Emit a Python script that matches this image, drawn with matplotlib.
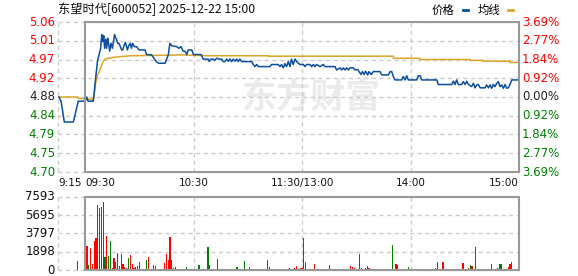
import matplotlib
matplotlib.use("Agg")
import matplotlib.pyplot as plt
from matplotlib.lines import Line2D
from matplotlib.patches import Rectangle

# stock intraday data, time in minutes after 9:15 (9:30 = 15, 11:30/13:00 = 135, 15:00 = 255)
prev_close = 4.88

price_t = [0.5, 1.7, 3.5, 8.5, 9.4, 10.3, 11.2, 15.0, 15.9, 16.6, 19.5, 20.1, 20.8,
           21.9, 22.7, 23.6, 24.2, 24.7, 25.3, 25.8, 26.4, 26.9, 27.5, 28.0, 28.6,
           29.3, 30.1, 30.8, 31.3, 31.9, 32.5, 33.0, 33.7, 34.5, 35.2, 35.8, 36.5,
           37.3, 37.8, 38.4, 39.1, 40.0, 40.6, 41.3, 42.2, 43.5, 44.8, 48.1, 49.0,
           51.8, 53.7, 54.6, 55.9, 59.2, 61.0, 61.9, 62.9, 65.6, 66.9, 68.0, 69.3,
           70.3, 71.2, 72.1, 74.0, 74.9, 78.6, 79.4,
           80.3, 83.1, 83.7, 84.6, 85.9, 86.8, 87.7, 89.2, 90.5, 91.4, 92.3, 93.3,
           94.2, 95.1, 96.0, 96.9, 97.9, 98.8, 99.7, 100.6, 101.6, 107.1, 108.0,
           108.9, 109.9, 110.8, 117.2, 118.1, 121.8, 122.8, 123.7, 124.6, 125.5,
           126.4, 127.4, 128.3, 129.2, 130.1, 131.1, 132.0, 133.8, 135.7, 136.6,
           137.5, 139.4, 140.3, 141.2, 142.1, 143.0, 144.9, 146.7, 147.7, 153.2,
           154.1, 156.0, 156.9, 157.8, 158.7, 159.6, 160.6, 161.5, 163.3, 164.2,
           165.8, 166.5, 167.6, 168.4, 169.3, 170.2, 171.3, 172.0, 173.2, 174.4,
           178.1, 179.1, 182.7, 183.7, 184.6, 185.5, 186.4, 190.1, 191.0, 192.0,
           192.9, 193.8, 198.4, 199.3, 200.3, 201.2, 209.5, 210.4, 217.8, 218.7,
           219.6, 220.5, 221.5, 223.3, 224.2, 225.2, 226.1, 227.0, 228.8, 229.8,
           230.7, 231.6, 232.5, 233.5, 236.2, 237.1, 238.1, 239.0, 239.9, 240.8,
           241.7, 242.7, 243.6, 244.5, 245.4, 246.4, 247.3, 248.2, 249.1, 250.0,
           251.0, 254.6]
price_v = [4.880, 4.870, 4.820, 4.820, 4.837, 4.853, 4.870, 4.870, 4.880, 4.870, 4.870,
           4.893, 4.925, 4.968, 4.982, 4.997, 5.030, 5.013, 5.027, 4.997, 5.019,
           4.997, 5.021, 5.009, 4.990, 5.009, 4.997, 5.017, 5.030, 5.022, 5.017,
           5.009, 5.009, 5.001, 4.993, 4.993, 5.003, 5.011, 5.003, 4.993, 5.003,
           5.009, 4.997, 5.009, 5.001, 5.001, 4.993, 4.993, 4.982, 4.981, 4.969,
           4.964, 4.961, 4.961, 4.981, 5.009, 5.003, 5.001, 4.997, 5.001, 4.990,
           4.990, 4.982, 4.993, 4.993, 4.982, 4.982, 4.981,
           4.971, 4.971, 4.965, 4.971, 4.971, 4.968, 4.973, 4.971, 4.971, 4.965,
           4.965, 4.971, 4.966, 4.971, 4.965, 4.971, 4.966, 4.971, 4.965, 4.971,
           4.965, 4.965, 4.958, 4.953, 4.958, 4.953, 4.953, 4.958, 4.958, 4.953,
           4.958, 4.950, 4.960, 4.953, 4.965, 4.953, 4.971, 4.958, 4.971, 4.965,
           4.958, 4.958, 4.953, 4.958, 4.958, 4.953, 4.958, 4.953, 4.958, 4.953,
           4.958, 4.953, 4.953, 4.945, 4.950, 4.945, 4.950, 4.945, 4.950, 4.945,
           4.950, 4.950, 4.945,
           4.946, 4.941, 4.934, 4.941, 4.934, 4.942, 4.933, 4.941, 4.934, 4.941,
           4.941, 4.933, 4.933, 4.941, 4.941, 4.929, 4.921, 4.921, 4.929, 4.921,
           4.931, 4.921, 4.921, 4.931, 4.931, 4.921, 4.921, 4.910, 4.910, 4.918,
           4.910, 4.921, 4.910, 4.910, 4.917, 4.910, 4.918, 4.910, 4.905, 4.913,
           4.902, 4.909, 4.910, 4.902, 4.902, 4.909, 4.902, 4.909, 4.901, 4.910,
           4.905, 4.913, 4.917, 4.905, 4.909, 4.901, 4.910, 4.901, 4.902, 4.910,
           4.921, 4.921]

avg_t = [0.5, 11.0, 11.0, 16.4, 19.5, 20.1, 20.8, 21.9, 23.2, 24.2, 25.1, 26.0, 27.8,
         30.6, 32.5, 39.8, 68.4, 83.1, 116.3, 116.3, 185.5, 185.5, 200.2, 200.2,
         227.9, 227.9, 235.2, 235.2, 250.0, 250.0, 255.0]
avg_v = [4.880, 4.880, 4.877, 4.875, 4.874, 4.889, 4.913, 4.933, 4.945, 4.958, 4.966,
         4.971, 4.973, 4.975, 4.976, 4.979, 4.981, 4.979, 4.979, 4.978, 4.978,
         4.973, 4.973, 4.970, 4.970, 4.968, 4.968, 4.966, 4.966, 4.963, 4.963]

pct_levels = [3.69, 2.77, 1.84, 0.92, 0.00, -0.92, -1.84, -2.77, -3.69]
price_labels = ["5.06", "5.01", "4.97", "4.92", "4.88", "4.84", "4.79", "4.75", "4.70"]
pct_labels = ["3.69%", "2.77%", "1.84%", "0.92%", "0.00%", "0.92%", "1.84%", "2.77%", "3.69%"]

time_pos = [0, 15, 75, 135, 195, 255]
time_labels = ["9:15", "09:30", "10:30", "11:30/13:00", "14:00", "15:00"]

vol_ticks = [0, 1898, 3797, 5695, 7593]
auction_t = 11
auction_vol = 940

# one bar per minute from 9:31 to 15:00, r = up, g = down
vol = [2500, 520, 2300, 620, 3020, 3360, 6760, 6480, 6550, 7100,
       1350, 3540, 1460, 3020, 240, 1280, 870, 1800, 420, 1660,
       620, 350, 240, 1280, 1560, 620, 170, 280, 380, 870,
       100, 100, 100, 1040, 1350, 100, 100, 520, 420, 100,
       100, 100, 100, 730, 1630, 1040, 3430, 1040, 170, 310,
       100, 100, 100, 100, 100, 310, 100, 100, 100, 100,
       100, 100, 520, 100, 100, 100, 100, 2390, 520, 100,
       100, 100, 1150, 100, 100, 100, 100, 100, 100, 100,
       100, 100, 100, 310, 100, 100, 100, 940, 100, 100,
       310, 100, 100, 100, 100, 100, 100, 100, 100, 100,
       1040, 310, 100, 100, 100, 100, 100, 100, 100, 100,
       100, 100, 200, 100, 100, 170, 420, 100, 170, 200,
       3370, 830, 100, 100, 100, 100, 620, 100, 100, 100,
       100, 100, 100, 100, 520, 100, 100, 100, 100, 100,
       100, 100, 100, 100, 100, 100, 420, 310, 200, 100,
       100, 1660, 170, 100, 170, 420, 200, 100, 100, 100,
       100, 100, 100, 100, 100, 100, 100, 100, 100, 2600,
       100, 620, 520, 100, 100, 100, 100, 100, 310, 100,
       100, 100, 100, 100, 100, 100, 100, 100, 100, 100,
       100, 100, 100, 200, 830, 100, 100, 830, 100, 100,
       100, 100, 100, 100, 100, 100, 100, 100, 730, 100,
       100, 200, 520, 420, 100, 2390, 100, 100, 100, 100,
       100, 100, 100, 100, 620, 100, 100, 200, 620, 620,
       100, 100, 100, 310, 620, 830, 100, 100, 100, 420]
vol_dir = ("rgrrrrrrrg" "grggrrggrg" "rrrgrrrrrg" "rrrgrgrrgr" "grrrrrrgrr"
           "rgrrrgrgrg" "rrgrgrrgrr" "rrrrrgrrrg" "rrrgrgrgrr" "rrgrrrrrgr"
           "rrrrgrrgrr" "rgrrrrrrrr" "grrrrrrgrr" "rgrrrrrrgr" "rgrrrrrrrg"
           "rrrrrgrrrr" "rrrrgrrrrg" "rrrrrrgrgr" "rrrrrrrrrr" "rrrrgrrrrr"
           "rrrrrgrrrr" "rrgrrrrrrr" "rrrrrrrrrg" "grrrrrrrrr")

RED = "#ff0000"
GREEN = "#008000"
GRID = "#cccccc"
FRAME = "#999999"

W, H = 578, 276
fig = plt.figure(figsize=(W / 100, H / 100), dpi=100)
fig.patch.set_facecolor("white")

ax = fig.add_axes([58 / W, 1 - 172 / H, 461 / W, 150 / H])
axv = fig.add_axes([58 / W, 1 - 270 / H, 461 / W, 73 / H])

levels = [prev_close * (1 + p / 100) for p in pct_levels]
ax.set_xlim(0, 255)
ax.set_ylim(levels[-1], levels[0])
axv.set_xlim(0, 255)
axv.set_ylim(0, vol_ticks[-1])

for a in (ax, axv):
    a.axis("off")
    a.axvline(0, color=GRID, lw=1, ls=(0, (3, 2.5)), clip_on=False)
    for t in time_pos[2:5]:
        a.axvline(t, color=GRID, lw=1, ls=(0, (3, 2.5)), zorder=1)
    a.add_patch(Rectangle((15, 0), 240, 1, transform=a.get_xaxis_transform(),
                          fill=False, ec=FRAME, lw=1.5, clip_on=False, zorder=5))

# price panel
for lev in levels:
    ax.axhline(lev, color=GRID, lw=1, ls=(0, (3, 2.5)), clip_on=False, zorder=1)

# watermark
ax.text(0.55, 0.5, "东方财富", transform=ax.transAxes, ha="center", va="center",
        fontsize=25, fontweight="bold", color="#ebebee", family="Noto Sans CJK SC", zorder=0)

ax.plot(avg_t, avg_v, color="#e0a526", lw=1.1, zorder=3)
ax.plot(price_t, price_v, color="#0b4ea2", lw=1.1, zorder=4)

for lev, lab, pl, p in zip(levels, price_labels, pct_labels, pct_levels):
    col = RED if p > 0 else (GREEN if p < 0 else "#222222")
    ax.annotate(lab, xy=(0, lev), xycoords=("axes fraction", "data"), xytext=(-3, 0),
                textcoords="offset pixels", ha="right", va="center", color=col, fontsize=8.5)
    ax.annotate(pl, xy=(1, lev), xycoords=("axes fraction", "data"), xytext=(3, 0),
                textcoords="offset pixels", ha="left", va="center", color=col, fontsize=8.5)

aligns = ["left", "left", "center", "center", "center", "right"]
for t, lab, al in zip(time_pos, time_labels, aligns):
    ax.annotate(lab, xy=(t, 0), xycoords=("data", "axes fraction"), xytext=(0, -11),
                textcoords="offset pixels", ha=al, va="center", fontsize=7.5, color="#111111")

# volume panel
for v in vol_ticks:
    axv.axhline(v, color=GRID, lw=1, ls=(0, (3, 2.5)), clip_on=False, zorder=1)
    axv.annotate(str(v), xy=(0, v), xycoords=("axes fraction", "data"), xytext=(-3, 0),
                 textcoords="offset pixels", ha="right", va="center", fontsize=8.5, color="#111111")

bar_t = [15 + k for k in range(1, len(vol) + 1)]
bar_c = [RED if d == "r" else GREEN for d in vol_dir]
axv.bar(bar_t, vol, width=0.65, color=bar_c, lw=0, zorder=3)
axv.bar([auction_t], [auction_vol], width=0.65, color=GREEN, lw=0, zorder=3)

# title and legend
cjk = ["Noto Sans CJK SC", "DejaVu Sans"]
fig.text(58 / W, 1 - 9 / H, "东望时代[600052] 2025-12-22 15:00", ha="left", va="center",
         fontsize=8.8, family=cjk, color="#111111")
fig.text(443 / W, 1 - 10 / H, "价格", ha="center", va="center", fontsize=8.2, family=cjk)
fig.text(489 / W, 1 - 10 / H, "均线", ha="center", va="center", fontsize=8.2, family=cjk)
fig.add_artist(Line2D([463 / W, 468 / W], [1 - 10 / H, 1 - 10 / H], color="#0b4ea2", lw=2))
fig.add_artist(Line2D([508 / W, 513 / W], [1 - 10 / H, 1 - 10 / H], color="#e0a526", lw=2))

fig.savefig("out.png", dpi=100)
